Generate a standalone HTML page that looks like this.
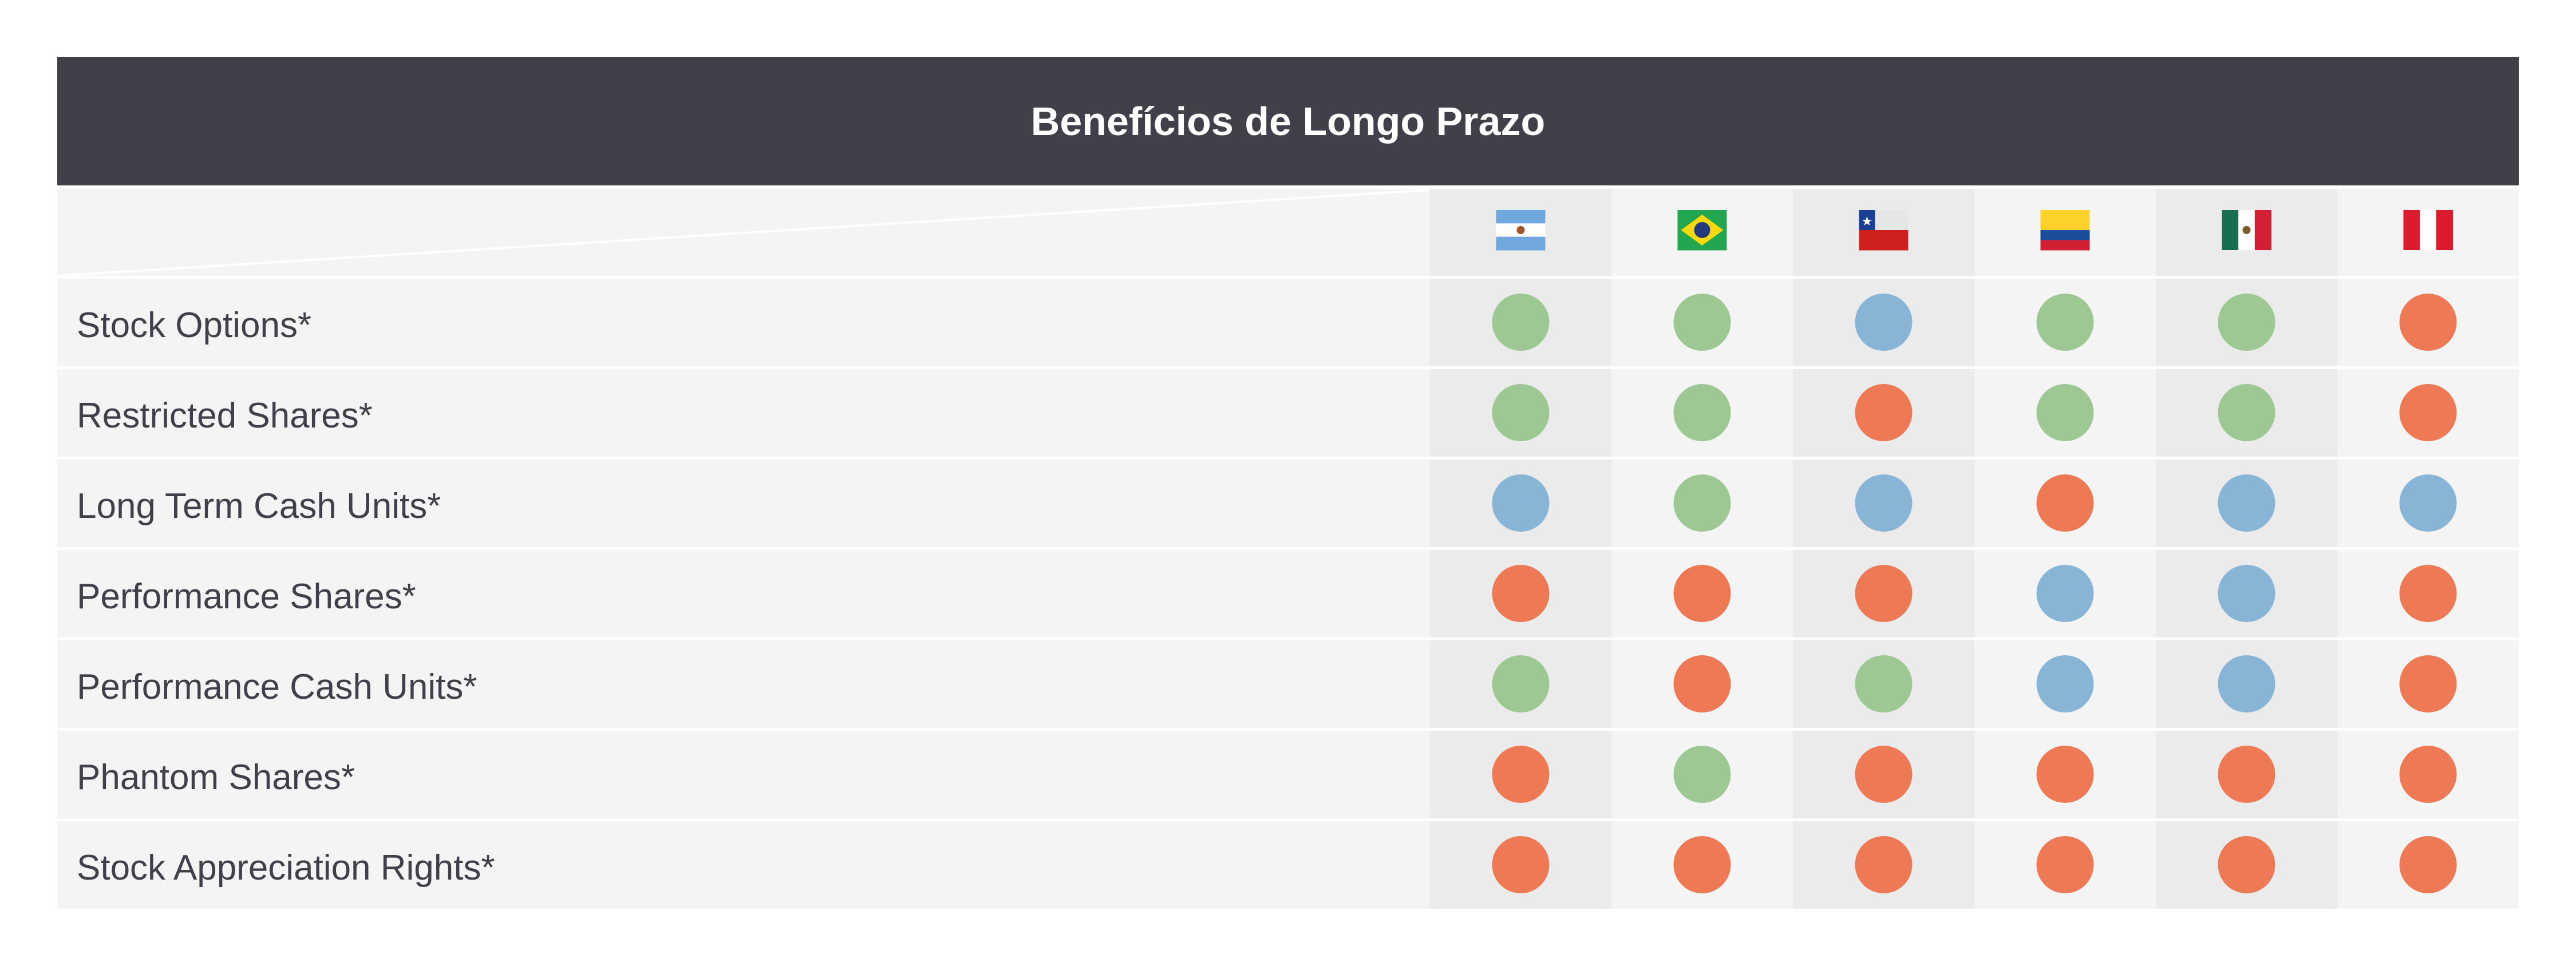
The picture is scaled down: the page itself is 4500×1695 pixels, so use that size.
<!DOCTYPE html>
<html><head><meta charset="utf-8"><style>
html,body{margin:0;padding:0;background:#fff;width:4500px;height:1695px;overflow:hidden}
svg{display:block}
text{font-family:"Liberation Sans Narrow","Liberation Sans",sans-serif}
</style></head><body>
<svg id="chart" width="4500" height="1695" viewBox="0 0 4500 1695" xmlns="http://www.w3.org/2000/svg">
<rect x="100" y="100" width="4300" height="224" fill="#41404a"/>
<text x="2250" y="236" text-anchor="middle" font-size="70" font-weight="bold" fill="#fff">Benefícios de Longo Prazo</text>
<rect x="100" y="330" width="4300" height="152" fill="#f4f4f4"/>
<line x1="100" y1="482" x2="2498" y2="332" stroke="#fff" stroke-width="4"/>
<g id="cols"></g>
<g id="rows"></g>
<g id="flags"></g>
<g id="dots"></g>
</svg>
<script>
const countries = ["Argentina","Brazil","Chile","Colombia","Mexico","Peru"];
const benefits = ["Stock Options*","Restricted Shares*","Long Term Cash Units*","Performance Shares*","Performance Cash Units*","Phantom Shares*","Stock Appreciation Rights*"];
const statusStockOptions = ["G","G","B","G","G","O"];
const statusRestricted = ["G","G","O","G","G","O"];
const statusLTCash = ["B","G","B","O","B","B"];
const statusPerfShares = ["O","O","O","B","B","O"];
const statusPerfCash = ["G","O","G","B","B","O"];
const statusPhantom = ["O","G","O","O","O","O"];
const statusSAR = ["O","O","O","O","O","O"];
const statusRows = [statusStockOptions,statusRestricted,statusLTCash,statusPerfShares,statusPerfCash,statusPhantom,statusSAR];

const NS="http://www.w3.org/2000/svg";
const colX0=2498, colW=317, rowY0=487, rowH=158, rowGap=5;
const colors={G:"#9dc893",B:"#88b5d6",O:"#ee7a55"};
function mk(tag,attrs,parent){const e=document.createElementNS(NS,tag);for(const k in attrs)e.setAttribute(k,attrs[k]);parent.appendChild(e);return e;}
const colsG=document.getElementById('cols'),rowsG=document.getElementById('rows'),flagsG=document.getElementById('flags'),dotsG=document.getElementById('dots');
function colX(i){return colX0+i*colW;}
function rowY(j){return rowY0+j*rowH;}

// column shading in header row
countries.forEach((c,i)=>{
  const r=mk('rect',{x:colX(i),y:330,width:colW,height:152,fill:i%2===0?"#ebebeb":"#f4f4f4"},colsG);
  
  
});
// body rows
benefits.forEach((b,j)=>{
  const y=rowY(j);
  const r=mk('rect',{x:100,y:y,width:4300,height:rowH-rowGap,fill:"#f4f4f4"},rowsG);
  
  
  countries.forEach((c,i)=>{
    if(i%2===0){
      const s=mk('rect',{x:colX(i),y:y,width:colW,height:rowH-rowGap,fill:"#ebebeb"},rowsG);
      
      
    }
  });
  const t=mk('text',{x:134,y:y+102,'font-size':62,fill:"#41404a"},rowsG);
  t.textContent=b;
  
  
  statusRows[j].forEach((st,i)=>{
    const d=mk('circle',{cx:colX(i)+colW/2,cy:y+76,r:50,fill:colors[st]},dotsG);
    
    
  });
});
// flags
const flagStripes={
  Argentina:{dir:'h',c:["#6fa8dc","#ffffff","#6fa8dc"]},
  Brazil:{dir:'h',c:["#22a650"]},
  Chile:{dir:'h',c:["#e6e6e6","#d0201e"]},
  Colombia:{dir:'h',c:["#fcd12a","#fcd12a","#1b4c9c","#d21f34"]},
  Mexico:{dir:'v',c:["#1a6e50","#ffffff","#d21f34"]},
  Peru:{dir:'v',c:["#dc1c2e","#ffffff","#dc1c2e"]}
};
countries.forEach((c,i)=>{
  const g=mk('g',{},flagsG);
  
  
  const fx=colX(i)+colW/2-43, fy=367, fw=86, fh=70;
  const f=flagStripes[c];
  const n=f.c.length;
  f.c.forEach((col,k)=>{
    if(f.dir==='h') mk('rect',{x:fx,y:fy+k*fh/n,width:fw,height:fh/n+0.5,fill:col},g);
    else mk('rect',{x:fx+k*fw/n,y:fy,width:fw/n+0.5,height:fh,fill:col},g);
  });
  if(c==='Brazil'){mk('polygon',{points:`${fx+43},${fy+8} ${fx+80},${fy+35} ${fx+43},${fy+62} ${fx+6},${fy+35}`,fill:"#f5d90a"},g);mk('circle',{cx:fx+43,cy:fy+35,r:14,fill:"#243a7a"},g);}
  if(c==='Chile'){mk('rect',{x:fx,y:fy,width:28,height:35,fill:"#1b3f95"},g);mk('text',{x:fx+14,y:fy+27,'font-size':22,fill:"#fff",'text-anchor':'middle'},g).textContent="★";}
  if(c==='Argentina'){mk('circle',{cx:fx+43,cy:fy+35,r:7,fill:"#a0522d"},g);}
  if(c==='Mexico'){mk('circle',{cx:fx+43,cy:fy+35,r:7,fill:"#7a5a2a"},g);}
});
</script>
</body></html>
